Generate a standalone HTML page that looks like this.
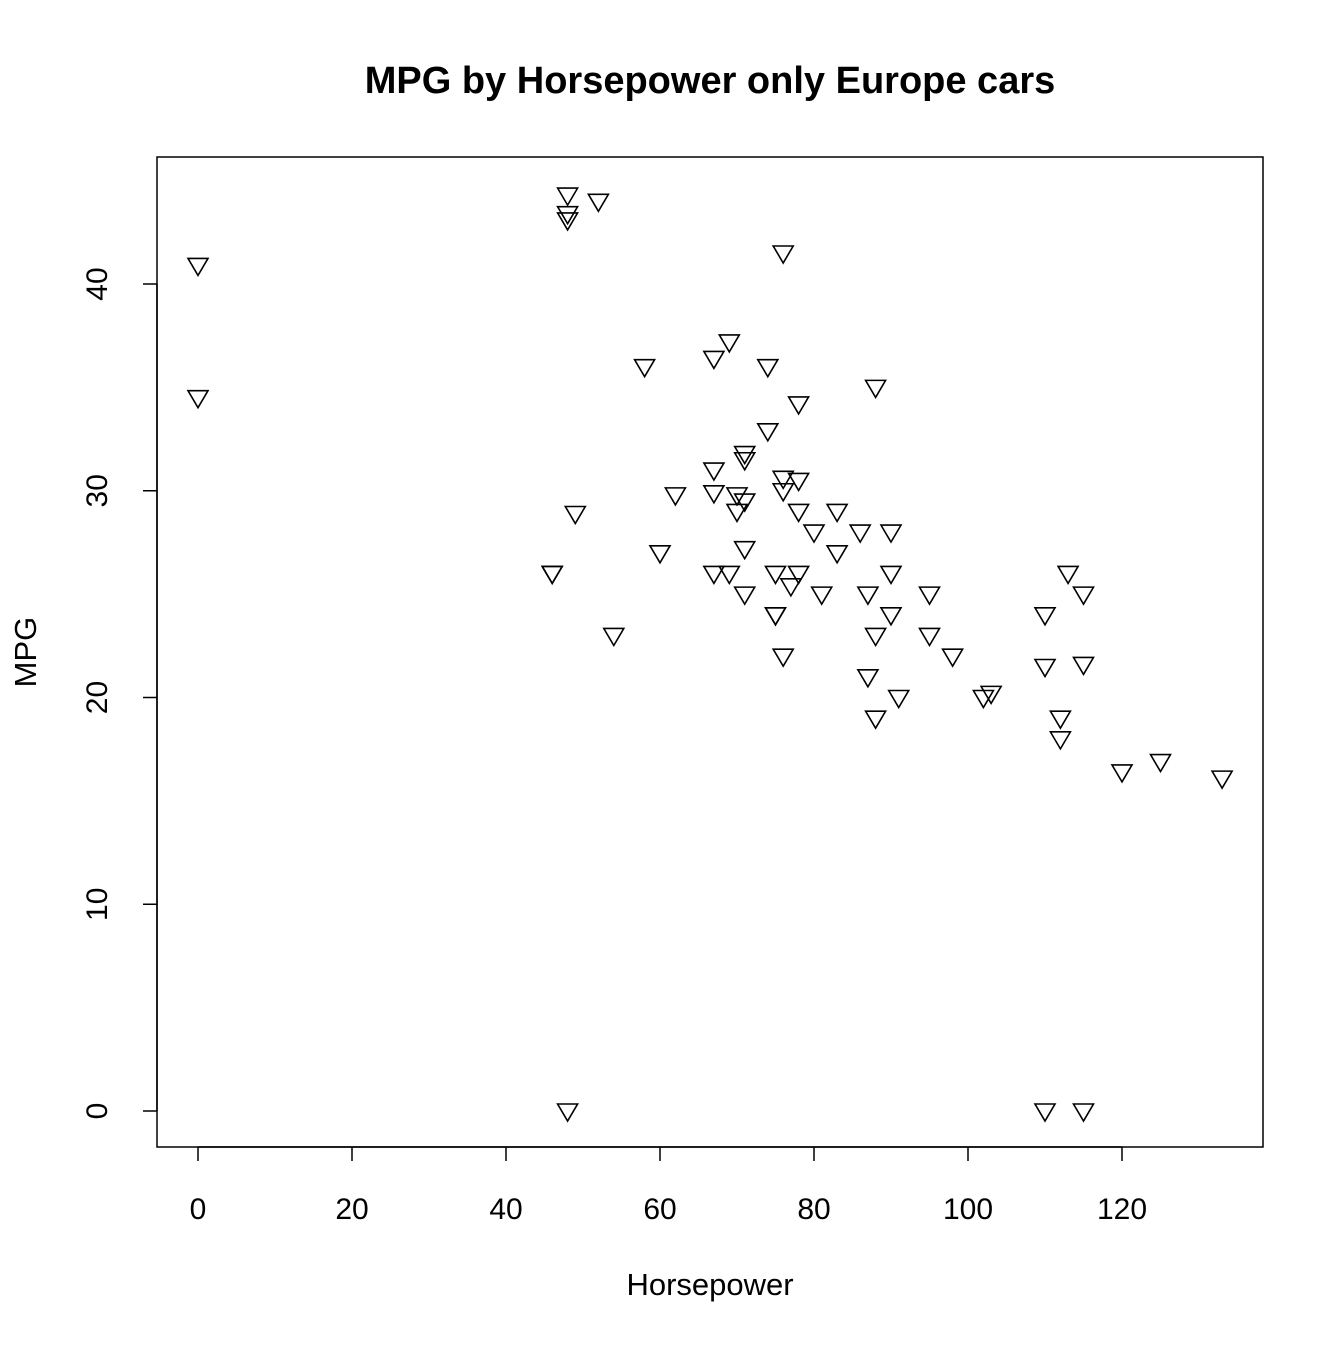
<!DOCTYPE html>
<html><head><meta charset="utf-8"><style>
html,body{margin:0;padding:0;background:#fff;}
text{font-family:"Liberation Sans",Arial,sans-serif;fill:#000;}
</style></head><body>
<svg id="chart" width="1344" height="1344" viewBox="0 0 1344 1344" xmlns="http://www.w3.org/2000/svg">
<rect x="0" y="0" width="1344" height="1344" fill="#fff"/>
<text x="710" y="93" text-anchor="middle" font-size="38" font-weight="bold">MPG by Horsepower only Europe cars</text>
<rect x="157" y="157" width="1106" height="990" fill="none" stroke="#000" stroke-width="1.5"/>
<text x="710" y="1295" text-anchor="middle" font-size="31">Horsepower</text>
<text transform="translate(36,652) rotate(-90)" text-anchor="middle" font-size="31">MPG</text>
<g id="axes"></g>
<g id="points"></g>
</svg>
<script>
const xTicks = [0, 20, 40, 60, 80, 100, 120];
const yTicks = [0, 10, 20, 30, 40];
const horsepower = [0,0,48,48,48,52,76,69,67,58,74,88,78,74,71,71,67,76,78,76,67,70,62,71,70,49,78,83,80,86,90,60,71,83,46,46,67,69,75,78,90,113,77,71,81,87,95,115,75,75,90,110,54,88,95,76,98,110,115,87,91,102,103,88,112,112,120,125,133,48,110,115];
const mpg = [40.9,34.5,44.3,43.4,43.1,44,41.5,37.2,36.4,36,36,35,34.2,32.9,31.8,31.5,31,30.6,30.5,30,29.9,29.8,29.8,29.5,29,28.9,29,29,28,28,28,27,27.2,27,26,26,26,26,26,26,26,26,25.4,25,25,25,25,25,24,24,24,24,23,23,23,22,22,21.5,21.6,21,20,20,20.2,19,19,18,16.4,16.9,16.1,0,0,0];

const NS = 'http://www.w3.org/2000/svg';
function xScale(v){ return 198 + v * 7.7; }
function yScale(v){ return 1111 - v * 20.675; }

const axes = document.getElementById('axes');
function mk(tag, attrs, parent){
  const e = document.createElementNS(NS, tag);
  for (const k in attrs) e.setAttribute(k, attrs[k]);
  parent.appendChild(e);
  return e;
}
const xl = mk('line', {x1:xScale(xTicks[0]), x2:xScale(xTicks[xTicks.length-1]), y1:1147, y2:1147, stroke:'#000','stroke-width':1.5}, axes);


xTicks.forEach(t => {
  const l = mk('line', {x1:xScale(t), x2:xScale(t), y1:1147, y2:1161, stroke:'#000','stroke-width':1.5}, axes);
  
  
  const tx = mk('text', {x:xScale(t), y:1219, 'text-anchor':'middle','font-size':30}, axes);
  tx.textContent = t;
  
  
});
const yl = mk('line', {x1:157, x2:157, y1:yScale(yTicks[0]), y2:yScale(yTicks[yTicks.length-1]), stroke:'#000','stroke-width':1.5}, axes);


yTicks.forEach(t => {
  const l = mk('line', {x1:143, x2:157, y1:yScale(t), y2:yScale(t), stroke:'#000','stroke-width':1.5}, axes);
  
  
  const tx = mk('text', {transform:'translate(107,'+yScale(t)+') rotate(-90)', 'text-anchor':'middle','font-size':30}, axes);
  tx.textContent = t;
  
  
});
const pts = document.getElementById('points');
horsepower.forEach((h, i) => {
  const cx = xScale(h), cy = yScale(mpg[i]);
  const p = mk('polygon', {points:(cx-10)+','+(cy-7)+' '+(cx+10)+','+(cy-7)+' '+cx+','+(cy+10), fill:'none', stroke:'#000','stroke-width':1.6}, pts);
  
  
});
</script>
</body></html>
